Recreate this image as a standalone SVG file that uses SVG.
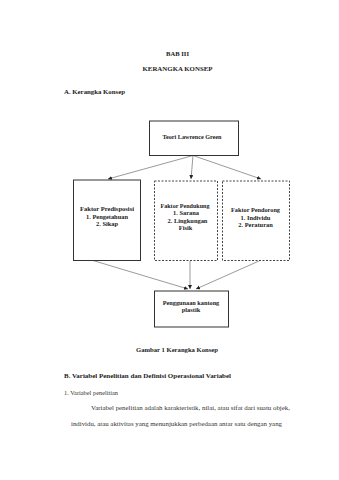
<svg xmlns="http://www.w3.org/2000/svg" width="339" height="480" viewBox="0 0 339 480">
<style>
.b{font-family:"Liberation Serif","Times New Roman",serif;font-weight:bold;font-size:6.4px;fill:#222}
.r{font-family:"Liberation Serif","Times New Roman",serif;font-size:6.2px;fill:#333}
.c{text-anchor:middle}
.box{fill:#fff;stroke:#333;stroke-width:1}
.dash{fill:#fff;stroke:#444;stroke-width:1;stroke-dasharray:2,1.5}
.con{stroke:#555;stroke-width:0.6;fill:none;marker-end:url(#ah)}
</style>
<defs>
<marker id="ah" markerWidth="5" markerHeight="5" refX="4" refY="2" orient="auto" markerUnits="userSpaceOnUse">
<path d="M0,0 L4,2 L0,4 Z" fill="#222"/>
</marker>
</defs>
<rect width="339" height="480" fill="#fff"/>
<text class="b c" x="177.5" y="55.5" textLength="23" lengthAdjust="spacingAndGlyphs">BAB III</text>
<text class="b c" x="177.5" y="71" textLength="70" lengthAdjust="spacingAndGlyphs">KERANGKA KONSEP</text>
<text class="b" x="64" y="94" textLength="61" lengthAdjust="spacingAndGlyphs">A. Kerangka Konsep</text>
<g id="connectors">
<line class="con" x1="193" y1="155.5" x2="108" y2="179"/>
<line class="con" x1="193" y1="155.5" x2="191" y2="179"/>
<line class="con" x1="193" y1="155.5" x2="261" y2="179"/>
<line class="con" x1="93" y1="260.5" x2="188" y2="289"/>
<line class="con" x1="190" y1="261" x2="190" y2="289"/>
<line class="con" x1="259" y1="261" x2="196" y2="289"/>
</g>
<g id="teori">
<rect class="box" x="149.5" y="121" width="89" height="34.5"/>
<text class="b c" x="192" y="138.5" textLength="59" lengthAdjust="spacingAndGlyphs">Teori Lawrence Green</text>
</g>
<g id="predisposisi">
<rect class="box" x="73.5" y="180" width="67" height="80.5" stroke-width="1.3"/>
<text class="b c" x="107" y="211" textLength="54" lengthAdjust="spacingAndGlyphs">Faktor Predisposisi</text>
<text class="b c" x="107" y="218.5">1. Pengetahuan</text>
<text class="b c" x="107" y="226">2. Sikap</text>
</g>
<g id="pendukung">
<rect class="dash" x="154.5" y="181" width="63" height="79.5"/>
<text class="b c" x="185" y="207.5" textLength="49" lengthAdjust="spacingAndGlyphs">Faktor Pendukung</text>
<text class="b c" x="186" y="215">1. Sarana</text>
<text class="b c" x="187.5" y="222.5">2. Lingkungan</text>
<text class="b c" x="185.5" y="230">Fisik</text>
</g>
<g id="pendorong">
<rect class="dash" x="222.5" y="181" width="67" height="79.5"/>
<text class="b c" x="255.5" y="212" textLength="49" lengthAdjust="spacingAndGlyphs">Faktor Pendorong</text>
<text class="b c" x="255.5" y="219.5">1. Individu</text>
<text class="b c" x="255.5" y="227">2. Peraturan</text>
</g>
<g id="penggunaan">
<rect class="box" x="154.5" y="291" width="74" height="36"/>
<text class="b c" x="191" y="304.5" textLength="56.5" lengthAdjust="spacingAndGlyphs">Penggunaan kantong</text>
<text class="b c" x="191" y="311.5">plastik</text>
</g>
<text class="b c" x="177" y="351.5" textLength="82" lengthAdjust="spacingAndGlyphs">Gambar 1 Kerangka Konsep</text>
<text class="b" x="64" y="377.5" textLength="167" lengthAdjust="spacingAndGlyphs">B. Variabel Penelitian dan Definisi Operasional Variabel</text>
<text class="r" x="64" y="394.5" textLength="54" lengthAdjust="spacingAndGlyphs">1. Variabel penelitian</text>
<text class="r" x="91" y="410" textLength="199" lengthAdjust="spacingAndGlyphs">Variabel penelitian adalah karakteristik, nilai, atau sifat dari suatu objek,</text>
<text class="r" x="71" y="425.5" textLength="211" lengthAdjust="spacingAndGlyphs">individu, atau aktivitas yang menunjukkan perbedaan antar satu dengan yang</text>
</svg>
